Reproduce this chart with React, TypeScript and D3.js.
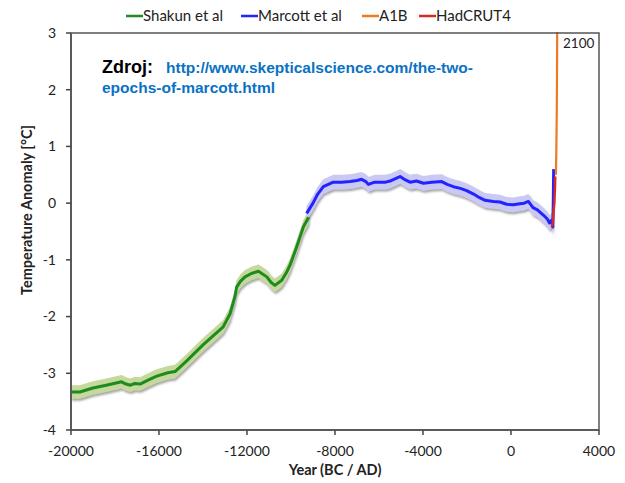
import React from "react";
import * as d3 from "d3";

// ---- Data ----
const shakunYears = [-20000, -19600, -19000, -18400, -17700, -17500, -17300, -17100, -16860, -16500, -16100, -15600, -15270, -14740, -14000, -13080, -12770, -12550, -12470, -12300, -12090, -11800, -11480, -11100, -10900, -10730, -10420, -10200, -10040, -9740, -9440, -9200];
const shakunValues = [-3.33, -3.33, -3.26, -3.21, -3.15, -3.19, -3.21, -3.18, -3.19, -3.12, -3.05, -2.99, -2.97, -2.78, -2.5, -2.18, -1.95, -1.65, -1.48, -1.38, -1.3, -1.24, -1.2, -1.3, -1.4, -1.45, -1.36, -1.22, -1.09, -0.77, -0.42, -0.25];
const shakunErr = 0.12;

const marcottYears = [-9290, -9000, -8800, -8530, -8080, -7700, -7320, -7000, -6790, -6600, -6480, -6200, -5950, -5700, -5500, -5200, -5040, -4800, -4590, -4300, -3980, -3600, -3150, -2900, -2620, -2300, -2020, -1700, -1450, -1180, -800, -500, -200, 100, 400, 600, 790, 1000, 1200, 1470, 1650, 1750, 1850, 1900, 1920, 1940];
const marcottValues = [-0.18, 0.0, 0.15, 0.29, 0.37, 0.37, 0.38, 0.4, 0.42, 0.38, 0.33, 0.37, 0.37, 0.37, 0.39, 0.44, 0.47, 0.41, 0.37, 0.39, 0.35, 0.37, 0.38, 0.33, 0.29, 0.26, 0.22, 0.16, 0.1, 0.05, 0.03, 0.02, -0.02, -0.03, -0.01, 0.0, 0.03, -0.08, -0.12, -0.21, -0.28, -0.35, -0.3, -0.42, 0.0, 0.6];
const marcottErr = 0.13;

const a1bYears = [2040, 2060, 2080, 2090, 2100];
const a1bValues = [0.5, 0.9, 1.6, 2.2, 3.05];

const hadYears = [1850, 1900, 1940, 1970, 2000, 2012];
const hadValues = [-0.42, -0.35, -0.1, 0.0, 0.3, 0.47];

const xTicks = [-20000, -16000, -12000, -8000, -4000, 0, 4000];
const yTicks = [3, 2, 1, 0, -1, -2, -3, -4];

const legendItems = [
  { label: "Shakun et al", color: "#1f8a1f", x: 126 },
  { label: "Marcott et al", color: "#2323ff", x: 241 },
  { label: "A1B", color: "#ee7a22", x: 362 },
  { label: "HadCRUT4", color: "#d42a2a", x: 419 },
];

const W = 625;
const H = 483;
const L = 71, R = 599, T = 33, B = 430;

export default function App() {
  const x = d3.scaleLinear().domain([-20000, 4000]).range([L, R]);
  const y = d3.scaleLinear().domain([-4, 3]).range([B, T]);

  const zip = (xs: number[], ys: number[]) => xs.map((v, i) => [v, ys[i]] as [number, number]);
  const line = d3.line<[number, number]>().x((d) => x(d[0])).y((d) => y(d[1]));
  const band = (err: number) =>
    d3.area<[number, number]>().x((d) => x(d[0])).y0((d) => y(d[1] - err)).y1((d) => y(d[1] + err));

  const shakun = zip(shakunYears, shakunValues);
  const marcott = zip(marcottYears, marcottValues);
  const a1b = zip(a1bYears, a1bValues);
  const had = zip(hadYears, hadValues);

  const tickFont = "Lato, 'DejaVu Sans', sans-serif";

  return (
    <svg width={W} height={H} style={{ position: "absolute", left: 0, top: 0, background: "#fff" }}>
      <defs>
        <filter id="sh" x="-5%" y="-5%" width="110%" height="120%">
          <feDropShadow dx="1" dy="2" stdDeviation="1" floodColor="#666" floodOpacity="0.6" />
        </filter>
        <clipPath id="clip">
          <rect x={L} y={T - 1} width={R - L} height={B - T + 1} />
        </clipPath>
      </defs>
      <rect x={0} y={0} width={W} height={H} fill="#fff" />

      {/* Legend */}
      {legendItems.map((it) => (
        <g key={it.label}>
          <line x1={it.x} x2={it.x + 17} y1={16} y2={16} stroke={it.color} strokeWidth={2.5} />
          <text x={it.x + 17} y={21} fontFamily={tickFont} fontSize={15} fill="#222">
            {it.label}
          </text>
        </g>
      ))}

      {/* Data */}
      <g clipPath="url(#clip)">
        <path d={band(shakunErr)(shakun) || ""} fill="#c5d99c" filter="url(#sh)" />
        <path d={band(marcottErr)(marcott) || ""} fill="#c9c9f4" filter="url(#sh)" />
        <path d={line(shakun) || ""} fill="none" stroke="#1f8a1f" strokeWidth={3} strokeLinejoin="round" />
        <path d={line(marcott) || ""} fill="none" stroke="#2323ff" strokeWidth={3} strokeLinejoin="round" />
        <path d={line(a1b) || ""} fill="none" stroke="#ee7a22" strokeWidth={2.2} />
        <path d={line(had) || ""} fill="none" stroke="#d42a2a" strokeWidth={2.5} />
      </g>

      {/* Frame */}
      <rect x={L} y={T} width={R - L} height={B - T} fill="none" stroke="#555" strokeWidth={1.5} />
      <line x1={L} x2={L} y1={T} y2={B} stroke="#5a5a5a" strokeWidth={2} />
      <line x1={L} x2={R} y1={B} y2={B} stroke="#5a5a5a" strokeWidth={2} />

      {/* Y axis ticks */}
      {yTicks.map((t) => (
        <g key={t}>
          <line x1={L - 5} x2={L} y1={y(t)} y2={y(t)} stroke="#444" strokeWidth={1.5} />
          <text x={56} y={y(t)} dy="0.35em" textAnchor="end" fontFamily={tickFont} fontSize={14} fill="#222">
            {t}
          </text>
        </g>
      ))}
      {/* X axis ticks */}
      {xTicks.map((t) => (
        <g key={t}>
          <line x1={x(t)} x2={x(t)} y1={B} y2={B + 5} stroke="#444" strokeWidth={1.5} />
          <text x={x(t)} y={456} textAnchor="middle" fontFamily={tickFont} fontSize={14} fill="#222">
            {t}
          </text>
        </g>
      ))}

      {/* Axis titles */}
      <text x={335} y={475} textAnchor="middle" fontFamily={tickFont} fontWeight="bold" fontSize={14.5} fill="#222">
        Year (BC / AD)
      </text>
      <text
        transform={`translate(32,210) rotate(-90)`}
        textAnchor="middle"
        fontFamily={tickFont}
        fontWeight="bold"
        fontSize={14.5}
        fill="#222"
      >
        Temperature Anomaly [°C]
      </text>

      {/* Annotations */}
      <text x={563} y={48} fontFamily={tickFont} fontSize={13.5} fill="#222">
        2100
      </text>
      <text x={102} y={73} fontFamily="'Liberation Sans', Arial, sans-serif" fontWeight="bold" fontSize={18} fill="#000">
        Zdroj:
      </text>
      <text x={166} y={73} fontFamily="'Liberation Sans', Arial, sans-serif" fontWeight="bold" fontSize={15.5} fill="#0a72c4">
        http://www.skepticalscience.com/the-two-
      </text>
      <text x={102} y={93} fontFamily="'Liberation Sans', Arial, sans-serif" fontWeight="bold" fontSize={15.5} fill="#0a72c4">
        epochs-of-marcott.html
      </text>
    </svg>
  );
}
